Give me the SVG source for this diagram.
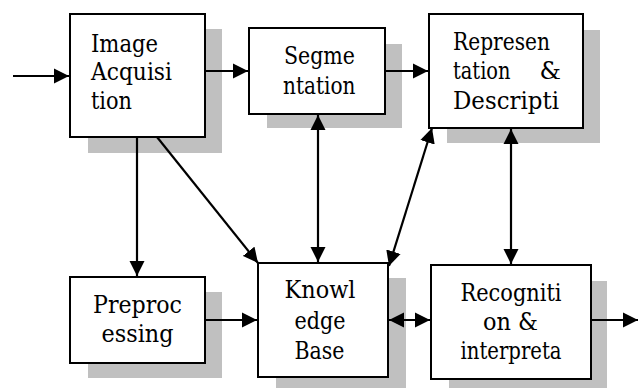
<svg xmlns="http://www.w3.org/2000/svg" width="639" height="388" viewBox="0 0 639 388">
<style>
.box{fill:#fff;stroke:#000;stroke-width:2}
.sh{fill:#c0c0c0}
.t{font-family:'DejaVu Serif','Liberation Serif',serif;font-size:23.5px;fill:#000}
.e{fill:none;stroke:#000;stroke-width:2.2}
</style>
<defs>
<marker id="ah" markerUnits="userSpaceOnUse" markerWidth="16" markerHeight="16" refX="15" refY="7.5" orient="auto-start-reverse" viewBox="0 0 16 15">
<path d="M0,0 L15,7.5 L0,15 Z" fill="#000"/>
</marker>
</defs>
<g id="n-acq">
<rect class="sh" x="88" y="29" width="134" height="124"/>
<rect class="box" x="70" y="14" width="135" height="123"/>
<text class="t" x="91" y="51.5" textLength="67" lengthAdjust="spacingAndGlyphs">Image</text>
<text class="t" x="91" y="80" textLength="81" lengthAdjust="spacingAndGlyphs">Acquisi</text>
<text class="t" x="91" y="109" textLength="41" lengthAdjust="spacingAndGlyphs">tion</text>
</g>
<g id="n-seg">
<rect class="sh" x="267" y="44" width="135" height="84"/>
<rect class="box" x="249" y="28" width="136" height="86"/>
<text class="t" x="284" y="63.5" textLength="71" lengthAdjust="spacingAndGlyphs">Segme</text>
<text class="t" x="283" y="93.5" textLength="72.5" lengthAdjust="spacingAndGlyphs">ntation</text>
</g>
<g id="n-rep">
<rect class="sh" x="447" y="30" width="153" height="113"/>
<rect class="box" x="429" y="14" width="154" height="114"/>
<text class="t" x="453" y="49.5" textLength="97" lengthAdjust="spacingAndGlyphs">Represen</text>
<text class="t" x="453" y="79" textLength="57.5" lengthAdjust="spacingAndGlyphs">tation</text>
<text class="t" x="539.5" y="79" textLength="21.5" lengthAdjust="spacingAndGlyphs">&amp;</text>
<text class="t" x="453" y="108.5" textLength="106" lengthAdjust="spacingAndGlyphs">Descripti</text>
</g>
<g id="n-pre">
<rect class="sh" x="88" y="292" width="134" height="86"/>
<rect class="box" x="70" y="277" width="135" height="86"/>
<text class="t" x="93" y="313" textLength="89" lengthAdjust="spacingAndGlyphs">Preproc</text>
<text class="t" x="101.5" y="342" textLength="72" lengthAdjust="spacingAndGlyphs">essing</text>
</g>
<g id="n-kb">
<rect class="sh" x="276" y="278" width="130" height="115"/>
<rect class="box" x="258" y="263" width="130" height="114"/>
<text class="t" x="284.5" y="298" textLength="71" lengthAdjust="spacingAndGlyphs">Knowl</text>
<text class="t" x="294.5" y="328.5" textLength="51" lengthAdjust="spacingAndGlyphs">edge</text>
<text class="t" x="294.5" y="359" textLength="50" lengthAdjust="spacingAndGlyphs">Base</text>
</g>
<g id="n-rec">
<rect class="sh" x="449" y="281" width="158" height="112"/>
<rect class="box" x="431" y="265" width="160" height="114"/>
<text class="t" x="460.5" y="300.5" textLength="101" lengthAdjust="spacingAndGlyphs">Recogniti</text>
<text class="t" x="483" y="330" textLength="55" lengthAdjust="spacingAndGlyphs">on &amp;</text>
<text class="t" x="460.5" y="358.5" textLength="101" lengthAdjust="spacingAndGlyphs">interpreta</text>
</g>
<g id="edges">
<line class="e" x1="13" y1="76" x2="69" y2="76" marker-end="url(#ah)"/>
<line class="e" x1="205" y1="71" x2="248" y2="71" marker-end="url(#ah)"/>
<line class="e" x1="385" y1="71" x2="428" y2="71" marker-end="url(#ah)"/>
<line class="e" x1="137" y1="137" x2="137" y2="276" marker-end="url(#ah)"/>
<line class="e" x1="157" y1="137" x2="258" y2="263" marker-end="url(#ah)"/>
<line class="e" x1="205" y1="320" x2="257" y2="320" marker-end="url(#ah)"/>
<line class="e" x1="318" y1="115" x2="318" y2="262" marker-start="url(#ah)" marker-end="url(#ah)"/>
<line class="e" x1="432" y1="128" x2="389" y2="266" marker-start="url(#ah)" marker-end="url(#ah)"/>
<line class="e" x1="511" y1="129" x2="511" y2="264" marker-start="url(#ah)" marker-end="url(#ah)"/>
<line class="e" x1="389" y1="320" x2="430" y2="320" marker-start="url(#ah)" marker-end="url(#ah)"/>
<line class="e" x1="591" y1="320" x2="638" y2="320" marker-end="url(#ah)"/>
</g>
</svg>
